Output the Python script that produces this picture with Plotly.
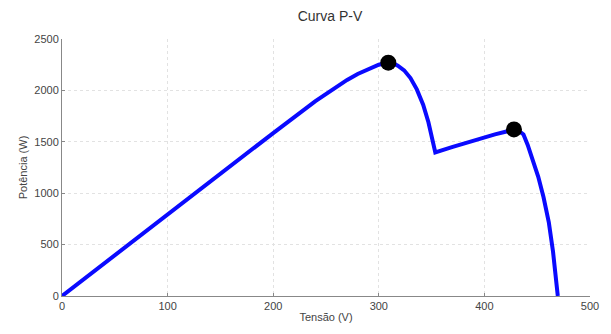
import plotly.graph_objects as go

# P-V curve data
voltage = [0, 100, 200, 240, 250, 260, 270, 280, 290, 300, 305, 309,
           314, 318, 324, 330, 336, 342, 347, 351, 353.5,
           370, 390, 410, 420, 428,
           432, 437, 441, 445, 451, 456, 461, 465, 469, 469.5]
power = [0, 795, 1585, 1895, 1968, 2038, 2102, 2160, 2210, 2250, 2263, 2270,
         2262, 2240, 2195, 2120, 2010, 1860, 1690, 1520, 1397,
         1450, 1515, 1572, 1598, 1620,
         1612, 1571, 1470, 1350, 1160, 960, 716, 430, 60, 0]

# Maximum power points (local maxima)
mpp_v = [309, 428]
mpp_p = [2270, 1620]

x_ticks = [0, 100, 200, 300, 400, 500]
y_ticks = [0, 500, 1000, 1500, 2000, 2500]

fig = go.Figure()
fig.add_trace(go.Scatter(x=voltage, y=power, mode="lines",
                         line=dict(color="#0a0aff", width=4, shape="linear"),
                         showlegend=False, hoverinfo="skip"))
fig.add_trace(go.Scatter(x=mpp_v, y=mpp_p, mode="markers",
                         marker=dict(color="black", size=16),
                         showlegend=False))

fig.update_layout(
    width=611, height=334,
    margin=dict(l=62, r=12, t=39, b=32),
    paper_bgcolor="white", plot_bgcolor="white",
    title=dict(text="Curva P-V", x=0.54, xanchor="center", y=0.965, yanchor="top",
               font=dict(family="Liberation Sans, Arial", size=14, color="#333")),
    font=dict(family="Liberation Sans, Arial", size=11, color="#444"),
)
fig.update_xaxes(range=[0, 500], tickvals=x_ticks, showgrid=True, gridcolor="#e2e2e2", griddash="dot",
                 showline=True, linecolor="#888", linewidth=1, ticks="inside", ticklen=3, tickcolor="#888",
                 zeroline=False, mirror=False,
                 title=dict(text="Tensão (V)", standoff=2, font=dict(size=11, color="#444")))
fig.update_yaxes(range=[0, 2500], tickvals=y_ticks, showgrid=True, gridcolor="#e2e2e2", griddash="dot",
                 showline=True, linecolor="#888", linewidth=1, ticks="inside", ticklen=3, tickcolor="#888",
                 zeroline=False, mirror=False,
                 title=dict(text="Potência (W)", standoff=4, font=dict(size=11, color="#444")))

fig.write_html("out.html")
